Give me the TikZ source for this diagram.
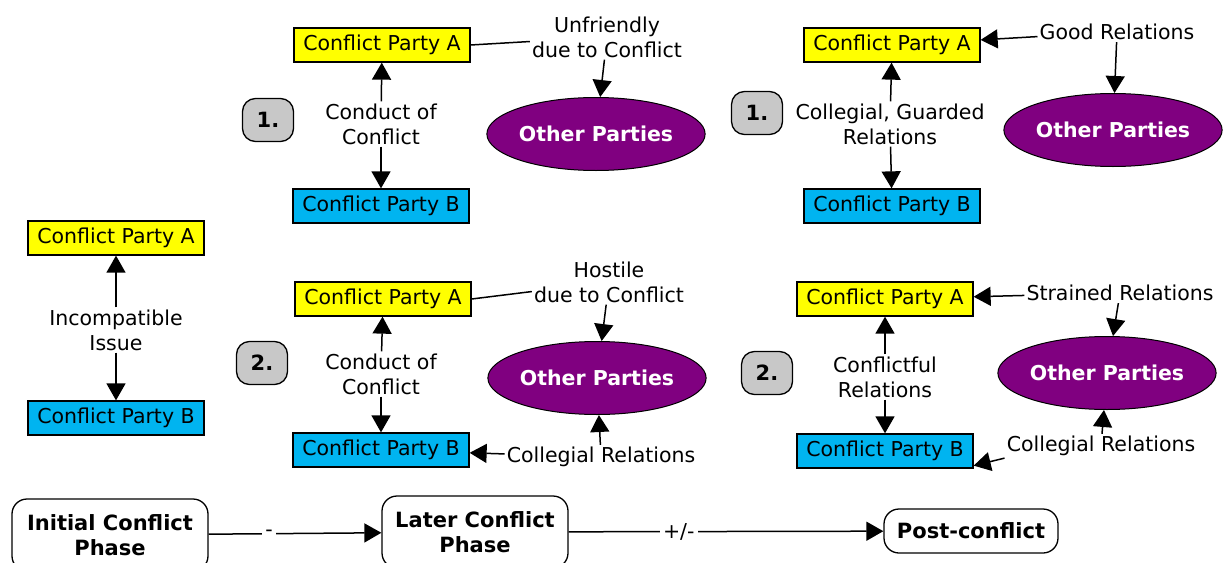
\documentclass[tikz,border=0pt]{standalone}
\usepackage{fontspec}
\setmainfont{DejaVu Sans}
\usetikzlibrary{arrows.meta,shapes.geometric}
\definecolor{partyA}{RGB}{255,255,0}
\definecolor{partyB}{RGB}{0,180,240}
\definecolor{otherpurple}{RGB}{128,0,128}
\definecolor{badgegray}{RGB}{200,200,200}
\newcommand{\labelsize}{\fontsize{20.5}{25}\selectfont}
\tikzset{
  every node/.style={font=\labelsize},
  party/.style={draw, line width=1.3pt, minimum width=176pt, minimum height=34pt, inner sep=0pt},
  pa/.style={party, fill=partyA},
  pb/.style={party, fill=partyB},
  rel/.style={align=center, inner sep=2pt},
  otherparty/.style={ellipse, draw, line width=1pt, fill=otherpurple, text=white,
    font=\labelsize\bfseries, minimum width=186pt, minimum height=73pt, inner sep=0pt},
  badge/.style={draw, line width=1.3pt, fill=badgegray, rounded corners=13pt,
    minimum width=51pt, minimum height=43pt, font=\fontsize{21}{25}\selectfont\bfseries},
  phase/.style={draw, line width=1.3pt, rounded corners=15pt, align=center, inner sep=0pt,
    font=\fontsize{21}{25}\selectfont\bfseries},
  link/.style={line width=1.5pt},
  arr/.style={link, -{Triangle[length=17pt,width=19pt]}},
  midlabel/.style={pos=0.35, fill=white, inner sep=3pt},
}
\begin{document}
\begin{tikzpicture}[x=1pt,y=-1pt]
\clip (0,0) rectangle (1223,562);

% --- initial phase: the two parties and their issue
\node[pa] (A0) at (116,238) {Conflict Party A};
\node[pb] (B0) at (116,418) {Conflict Party B};
\node[rel] (I0) at (116,330) {Incompatible\\Issue};
\draw[arr] (I0) -- (A0);
\draw[arr] (I0) -- (B0);

% --- later phase, case 1
\node[badge] (N1) at (268,120) {1.};
\node[pa] (A1) at (382,45) {Conflict Party A};
\node[pb] (B1) at (381,206) {Conflict Party B};
\node[rel] (L1) at (381,124) {Conduct of\\Conflict};
\node[otherparty] (E1) at (596,134) {Other Parties};
\node[rel] (U1) at (607,37) {Unfriendly\\due to Conflict};
\draw[arr] (L1) -- (A1);
\draw[arr] (L1) -- (B1);
\draw[link] (A1.east) -- (U1);
\draw[arr] (U1) -- (E1);

% --- post-conflict, case 1
\node[badge] (N2) at (757,113) {1.};
\node[pa] (A2) at (892,45) {Conflict Party A};
\node[pb] (B2) at (892,206) {Conflict Party B};
\node[rel] (L2) at (890,124) {Collegial, Guarded\\Relations};
\node[otherparty] (E2) at (1113,130) {Other Parties};
\node[rel] (G2) at (1117,32) {Good Relations};
\draw[arr] (L2) -- (A2);
\draw[arr] (L2) -- (B2);
\draw[arr] (G2) -- (A2);
\draw[arr] (G2) -- (E2);

% --- later phase, case 2
\node[badge] (N3) at (262,363) {2.};
\node[pa] (A3) at (383,299) {Conflict Party A};
\node[pb] (B3) at (381,450) {Conflict Party B};
\node[rel] (L3) at (381,374) {Conduct of\\Conflict};
\node[otherparty] (E3) at (597,378) {Other Parties};
\node[rel] (H3) at (609,282) {Hostile\\due to Conflict};
\node[rel] (C3) at (601,457) {Collegial Relations};
\draw[arr] (L3) -- (A3);
\draw[arr] (L3) -- (B3);
\draw[link] (A3.east) -- (H3);
\draw[arr] (H3) -- (E3);
\draw[arr] (C3) -- (B3);
\draw[arr] (C3) -- (E3);

% --- post-conflict, case 2
\node[badge] (N4) at (767,373) {2.};
\node[pa] (A4) at (885,299) {Conflict Party A};
\node[pb] (B4) at (885,451) {Conflict Party B};
\node[rel] (L4) at (885,377) {Conflictful\\Relations};
\node[otherparty] (E4) at (1107,373) {Other Parties};
\node[rel] (S4) at (1120,293) {Strained Relations};
\node[rel] (C4) at (1101,446) {Collegial Relations};
\draw[arr] (L4) -- (A4);
\draw[arr] (L4) -- (B4);
\draw[arr] (S4) -- (A4);
\draw[arr] (S4) -- (E4);
\draw[arr] (C4.south west) -- ([yshift=3pt]B4.south east);
\draw[arr] (C4) -- (E4);

% --- phase sequence
\node[phase, minimum width=196pt, minimum height=72pt] (P1) at (110,535) {Initial Conflict\\Phase};
\node[phase, minimum width=186pt, minimum height=72pt] (P2) at (475,532) {Later Conflict\\Phase};
\node[phase, minimum width=174pt, minimum height=44pt] (P3) at (971,531) {Post-conflict};
\draw[arr] (P1) -- node[midlabel] {-} (P2);
\draw[arr] (P2) -- node[midlabel] {+/-} (P3);
\end{tikzpicture}
\end{document}
